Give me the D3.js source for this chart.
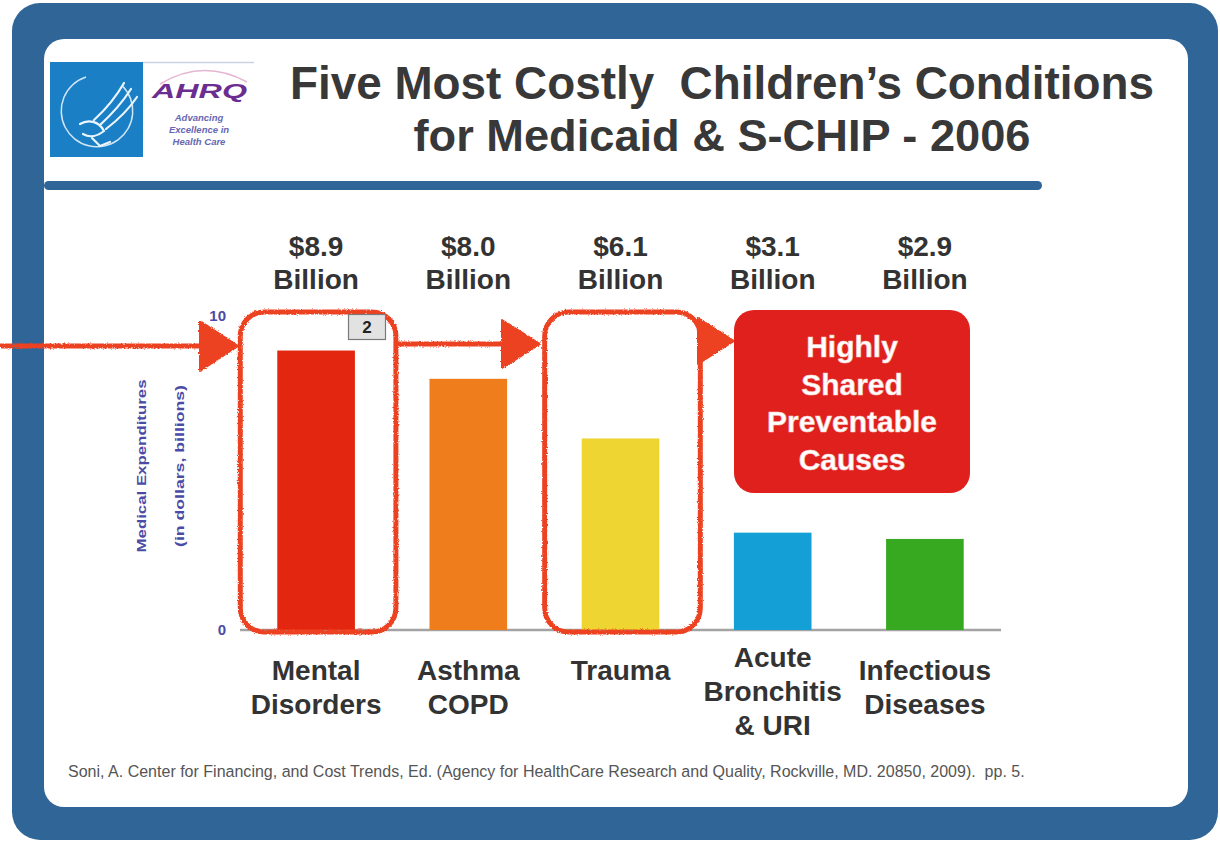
<!DOCTYPE html>
<html>
<head>
<meta charset="utf-8">
<script src="https://cdn.jsdelivr.net/npm/d3@7"></script>
<style>
  html, body { margin: 0; padding: 0; background: #ffffff; }
  svg { display: block; font-family: "Liberation Sans", Arial, Helvetica, sans-serif; }
</style>
</head>
<body>
<svg id="chart" width="1220" height="842"></svg>
<script>
// ---- data ----
const categories = ["Mental Disorders", "Asthma COPD", "Trauma", "Acute Bronchitis & URI", "Infectious Diseases"];
const categoryLines = [["Mental", "Disorders"], ["Asthma", "COPD"], ["Trauma"], ["Acute", "Bronchitis", "& URI"], ["Infectious", "Diseases"]];
const costsBillions = [8.9, 8.0, 6.1, 3.1, 2.9];
const barColors = ["#e3260f", "#f07d1c", "#efd531", "#14a0d6", "#36a920"];
const yTicks = [0, 10];
const yTitleLines = ["Medical Expenditures", "(in dollars, billions)"];
const titleLines = ["Five Most Costly\u00a0 Children\u2019s Conditions", "for Medicaid & S-CHIP - 2006"];
const calloutLines = ["Highly", "Shared", "Preventable", "Causes"];
const sourceNote = "Soni, A. Center for Financing, and Cost Trends, Ed. (Agency for HealthCare Research and Quality, Rockville, MD. 20850, 2009).\u00a0 pp. 5.";

const frameBlue = "#2f6597";
const annotRed = "#ec4322";
const textDark = "#333333";
const axisInk = "#4b4ba6";

const svg = d3.select("#chart");
const defs = svg.append("defs");

// hand-drawn look for the marker annotations
const rough = defs.append("filter").attr("id", "rough")
  .attr("x", "-5%").attr("y", "-5%").attr("width", "110%").attr("height", "110%")
  .attr("filterUnits", "objectBoundingBox");
rough.append("feTurbulence").attr("type", "fractalNoise").attr("baseFrequency", 0.7)
  .attr("numOctaves", 2).attr("seed", 4).attr("result", "noise");
rough.append("feDisplacementMap").attr("in", "SourceGraphic").attr("in2", "noise")
  .attr("scale", 3).attr("xChannelSelector", "R").attr("yChannelSelector", "G");

function fitWidth(sel, target) {
  const fs = parseFloat(sel.attr("font-size"));
  const w = sel.node().getComputedTextLength();
  sel.attr("font-size", (fs * target / w).toFixed(2));
}

// ---- slide frame ----
svg.append("rect").attr("x", 12).attr("y", 3).attr("width", 1206).attr("height", 837)
  .attr("rx", 28).attr("fill", frameBlue);
svg.append("rect").attr("x", 44).attr("y", 39).attr("width", 1144).attr("height", 768)
  .attr("rx", 20).attr("fill", "#ffffff");
svg.append("rect").attr("x", 44).attr("y", 181).attr("width", 998).attr("height", 9)
  .attr("rx", 4.5).attr("fill", frameBlue);

// ---- logo ----
const logo = svg.append("g");
logo.append("line").attr("x1", 143).attr("x2", 254).attr("y1", 62.5).attr("y2", 62.5)
  .attr("stroke", "#c9d3e3").attr("stroke-width", 1.5);
logo.append("rect").attr("x", 50).attr("y", 62).attr("width", 93).attr("height", 95).attr("fill", "#1b7fc6");
logo.append("path")
  .attr("d", d3.arc()({ innerRadius: 35, outerRadius: 36.5, startAngle: -0.1 * Math.PI, endAngle: -1.75 * Math.PI }))
  .attr("transform", "translate(97,111)").attr("fill", "#cfe6f7");
const eagle = logo.append("g").attr("fill", "none").attr("stroke", "#eaf5fd").attr("stroke-width", 2.2).attr("stroke-linecap", "round");
eagle.append("path").attr("d", "M124,83 C116,97 106,109 94,120");
eagle.append("path").attr("d", "M131,89 C122,103 112,114 100,125");
eagle.append("path").attr("d", "M137,97 C129,109 119,119 106,129");
eagle.append("path").attr("d", "M80,124 C88,119 99,121 104,131 C98,136 90,138 83,134");
eagle.append("path").attr("d", "M92,138 L100,146 L110,142");
logo.append("path").attr("d", "M160,84 Q203,58 247,82").attr("fill", "none")
  .attr("stroke", "#e4b6d2").attr("stroke-width", 1.5);
logo.append("text").attr("x", 152).attr("y", 98).attr("font-size", 21).attr("font-weight", "bold")
  .attr("font-style", "italic").attr("fill", "#6b2d8f")
  .attr("textLength", 95).attr("lengthAdjust", "spacingAndGlyphs").text("AHRQ");
logo.selectAll("text.tag").data(["Advancing", "Excellence in", "Health Care"]).join("text")
  .attr("class", "tag").attr("x", 199).attr("y", (d, i) => 121 + i * 12)
  .attr("text-anchor", "middle").attr("font-size", 9.5).attr("font-weight", "bold")
  .attr("font-style", "italic").attr("fill", "#6767b2").text(d => d);

// ---- title ----
const titleWidths = [864, 617];
svg.selectAll("text.title").data(titleLines).join("text")
  .attr("class", "title").attr("x", 722).attr("y", (d, i) => 99 + i * 52)
  .attr("text-anchor", "middle").attr("font-size", 45).attr("font-weight", "bold")
  .attr("fill", "#383838").text(d => d)
  .each(function (d, i) { fitWidth(d3.select(this), titleWidths[i]); });

// ---- scales ----
const x = d3.scaleBand().domain(categories).range([240, 1001]).paddingInner(0.49).paddingOuter(0.245);
const y = d3.scaleLinear().domain([0, 10]).range([630, 316]);

// y axis (labels only)
const yAxis = svg.append("g").attr("transform", "translate(240,0)")
  .call(d3.axisLeft(y).tickValues(yTicks).tickSize(0).tickPadding(14).tickFormat(d3.format("d")));
yAxis.select(".domain").remove();
yAxis.selectAll("text").attr("font-size", 15).attr("font-weight", "bold")
  .attr("fill", axisInk).attr("font-family", "Liberation Sans, Arial, sans-serif");

// y axis title
const yTitleX = [141, 179];
const yTitleLen = [173, 162];
svg.selectAll("text.ytitle").data(yTitleLines).join("text")
  .attr("class", "ytitle")
  .attr("transform", (d, i) => `translate(${yTitleX[i]},466) rotate(-90)`)
  .attr("text-anchor", "middle").attr("dy", "0.35em")
  .attr("font-size", 13).attr("font-weight", "bold").attr("fill", axisInk)
  .attr("textLength", (d, i) => yTitleLen[i]).attr("lengthAdjust", "spacingAndGlyphs")
  .text(d => d);

// baseline
svg.append("line").attr("x1", x.range()[0]).attr("x2", x.range()[1])
  .attr("y1", y(0)).attr("y2", y(0)).attr("stroke", "#a3a3a3").attr("stroke-width", 2.5);

// bars
svg.selectAll("rect.bar").data(categories).join("rect")
  .attr("class", "bar")
  .attr("x", d => x(d)).attr("width", x.bandwidth())
  .attr("y", (d, i) => y(costsBillions[i]))
  .attr("height", (d, i) => y(0) - y(costsBillions[i]))
  .attr("fill", (d, i) => barColors[i]);

// cost labels above the plot
const costLabel = svg.selectAll("g.cost").data(categories).join("g")
  .attr("class", "cost")
  .attr("transform", d => `translate(${x(d) + x.bandwidth() / 2},0)`);
costLabel.append("text").attr("y", 256).attr("text-anchor", "middle")
  .attr("font-size", 28).attr("font-weight", "bold").attr("fill", textDark)
  .text((d, i) => "$" + d3.format(".1f")(costsBillions[i]));
costLabel.append("text").attr("y", 289).attr("text-anchor", "middle")
  .attr("font-size", 28).attr("font-weight", "bold").attr("fill", textDark)
  .text("Billion");

// category labels
const catLabel = svg.selectAll("text.cat").data(categories).join("text")
  .attr("class", "cat")
  .attr("text-anchor", "middle").attr("font-size", 28).attr("font-weight", "bold").attr("fill", textDark);
catLabel.each(function (d, i) {
  const lines = categoryLines[i];
  const top = lines.length > 2 ? 667 : 680;
  d3.select(this).selectAll("tspan").data(lines).join("tspan")
    .attr("x", x(d) + x.bandwidth() / 2)
    .attr("y", (l, j) => top + j * 34)
    .text(l => l);
});

// ---- marker annotations ----
const ann = svg.append("g").attr("filter", "url(#rough)");
const boxPad = { left: 37, right: 41, top: 4 };
function outline(cat) {
  ann.append("rect")
    .attr("x", x(cat) - boxPad.left)
    .attr("y", y(10) - boxPad.top)
    .attr("width", x.bandwidth() + boxPad.left + boxPad.right)
    .attr("height", y(0) + 2 - (y(10) - boxPad.top))
    .attr("rx", 24).attr("fill", "none").attr("stroke", annotRed).attr("stroke-width", 5);
}
outline(categories[0]);
outline(categories[2]);

const arrows = [
  { x1: 0, x2: 200, yc: 346, tip: 238, half: 25 },
  { x1: 397, x2: 502, yc: 344, tip: 540, half: 24 },
  { x1: 698, x2: 698, yc: 341, tip: 734, half: 23 }
];
arrows.forEach(a => {
  if (a.x2 > a.x1) {
    ann.append("line").attr("x1", a.x1).attr("x2", a.x2 + 2).attr("y1", a.yc).attr("y2", a.yc)
      .attr("stroke", annotRed).attr("stroke-width", 5);
  }
  ann.append("path")
    .attr("d", `M${a.x2},${a.yc - a.half} L${a.tip},${a.yc} L${a.x2},${a.yc + a.half} Z`)
    .attr("fill", annotRed).attr("stroke", annotRed).attr("stroke-width", 2).attr("stroke-linejoin", "round");
});

// slide number tag
svg.append("rect").attr("x", 348.5).attr("y", 314.5).attr("width", 37).attr("height", 25)
  .attr("fill", "#e2e2e2").attr("stroke", "#7a7a7a").attr("stroke-width", 1.2);
svg.append("text").attr("x", 367).attr("y", 333).attr("text-anchor", "middle")
  .attr("font-size", 17).attr("font-weight", "bold").attr("fill", "#222").text("2");

// callout box
svg.append("rect").attr("x", 734).attr("y", 310).attr("width", 236).attr("height", 183)
  .attr("rx", 20).attr("fill", "#e0201c");
svg.selectAll("text.callout").data(calloutLines).join("text")
  .attr("class", "callout").attr("x", 852).attr("y", (d, i) => 357 + i * 37.7)
  .attr("text-anchor", "middle").attr("font-size", 30).attr("font-weight", "bold")
  .attr("fill", "#ffffff").attr("stroke", "#f6c9c4").attr("stroke-width", 0.6)
  .text(d => d);

// source note
const note = svg.append("text").attr("x", 68).attr("y", 777)
  .attr("font-size", 11).attr("fill", "#555555").text(sourceNote);
fitWidth(note, 957);
</script>
</body>
</html>
